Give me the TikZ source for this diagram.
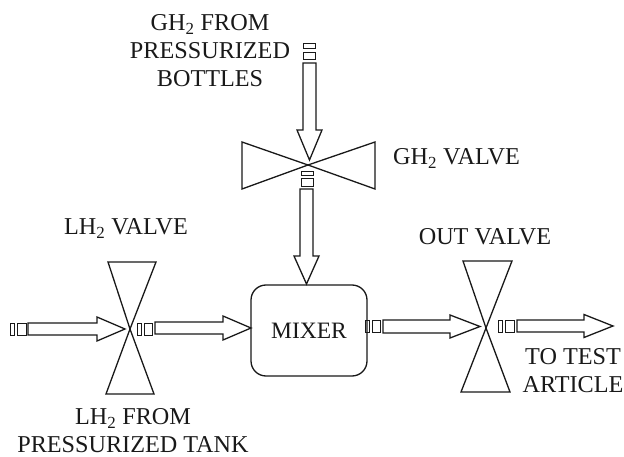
\documentclass[tikz,border=0pt]{standalone}
\usepackage{fontspec}
\setmainfont{Liberation Serif}
\usetikzlibrary{calc}
\tikzset{
  line/.style={draw=black!90,line width=1.3pt,line join=miter},
  lbl/.style={font=\fontsize{24.2}{28}\selectfont,align=center,text=black!90,inner sep=0pt},
  ticks/.style={draw=black!90,line width=0.8pt}
}
\newcommand{\harrow}[6]{% start, head start, tip, y, half shaft, half head
  \draw[line] (#1,#4-#5) -- (#2,#4-#5) -- (#2,#4-#6) -- (#3,#4) -- (#2,#4+#6) -- (#2,#4+#5) -- (#1,#4+#5) -- cycle;}
\newcommand{\varrow}[6]{%
  \draw[line] (#4-#5,#1) -- (#4-#5,#2) -- (#4-#6,#2) -- (#4,#3) -- (#4+#6,#2) -- (#4+#5,#2) -- (#4+#5,#1) -- cycle;}
\newcommand{\hticks}[5]{% x1 x2 x3 x4 y
  \draw[ticks] (#1,#5-6) rectangle (#2,#5+6);
  \draw[ticks] (#3,#5-6) rectangle (#4,#5+6);}
\newcommand{\vticks}[5]{%
  \draw[ticks] (#5-6,#1) rectangle (#5+6,#2);
  \draw[ticks] (#5-6,#3) rectangle (#5+6,#4);}
\begin{document}
\begin{tikzpicture}[x=1pt,y=-1pt]
\useasboundingbox (0,0) rectangle (624,457);
% valves
\coordinate (gv) at (308,165);
\coordinate (lv) at (130,329);
\coordinate (ov) at (486,328);
\draw[line] (gv) -- (242,142) -- (242,189) -- (gv) -- (375,142) -- (375,189) -- cycle;
\draw[line] (lv) -- (108,262) -- (156,262) -- (lv) -- (106,394) -- (154,394) -- cycle;
\draw[line] (ov) -- (463,261) -- (512,261) -- (ov) -- (461,392) -- (510,392) -- cycle;
% mixer
\node[line,rounded corners=15pt,minimum width=116pt,minimum height=91pt,inner sep=0pt,
  font=\fontsize{23.5}{28}\selectfont,text=black!90] (mixer) at (309,330.5) {MIXER};
% arrows
\vticks{43}{48.5}{52}{59}{309.5}
\varrow{63}{130}{160}{309.5}{6.5}{12.5}
\vticks{171.5}{175.5}{178.5}{186}{307}
\varrow{189}{256}{284}{306.5}{6.5}{12.5}
\hticks{10}{14.5}{17.5}{26}{329}
\harrow{28}{97}{125}{329}{6}{12}
\hticks{137}{141.5}{144.5}{152}{329}
\harrow{155}{223}{251}{328}{6}{12}
\hticks{365}{369}{372}{380}{326.5}
\harrow{383}{450}{480}{326.5}{6.5}{11.5}
\hticks{498}{502.5}{505.5}{514}{326}
\harrow{517}{584}{613}{326}{6}{11.5}
% labels
\node[lbl] (t1) at (210,50.5) {GH\textsubscript{2} FROM\\PRESSURIZED\\BOTTLES};
\node[lbl,anchor=base west] (t2) at (393,165) {GH\textsubscript{2} VALVE};
\node[lbl,anchor=base] (t3) at (126,235) {LH\textsubscript{2} VALVE};
\node[lbl] (t4) at (133,431) {LH\textsubscript{2} FROM\\PRESSURIZED TANK};
\node[lbl,anchor=base] (t5) at (485,245) {OUT VALVE};
\node[lbl] (t6) at (573,370.5) {TO TEST\\ARTICLE};
\end{tikzpicture}
\end{document}
